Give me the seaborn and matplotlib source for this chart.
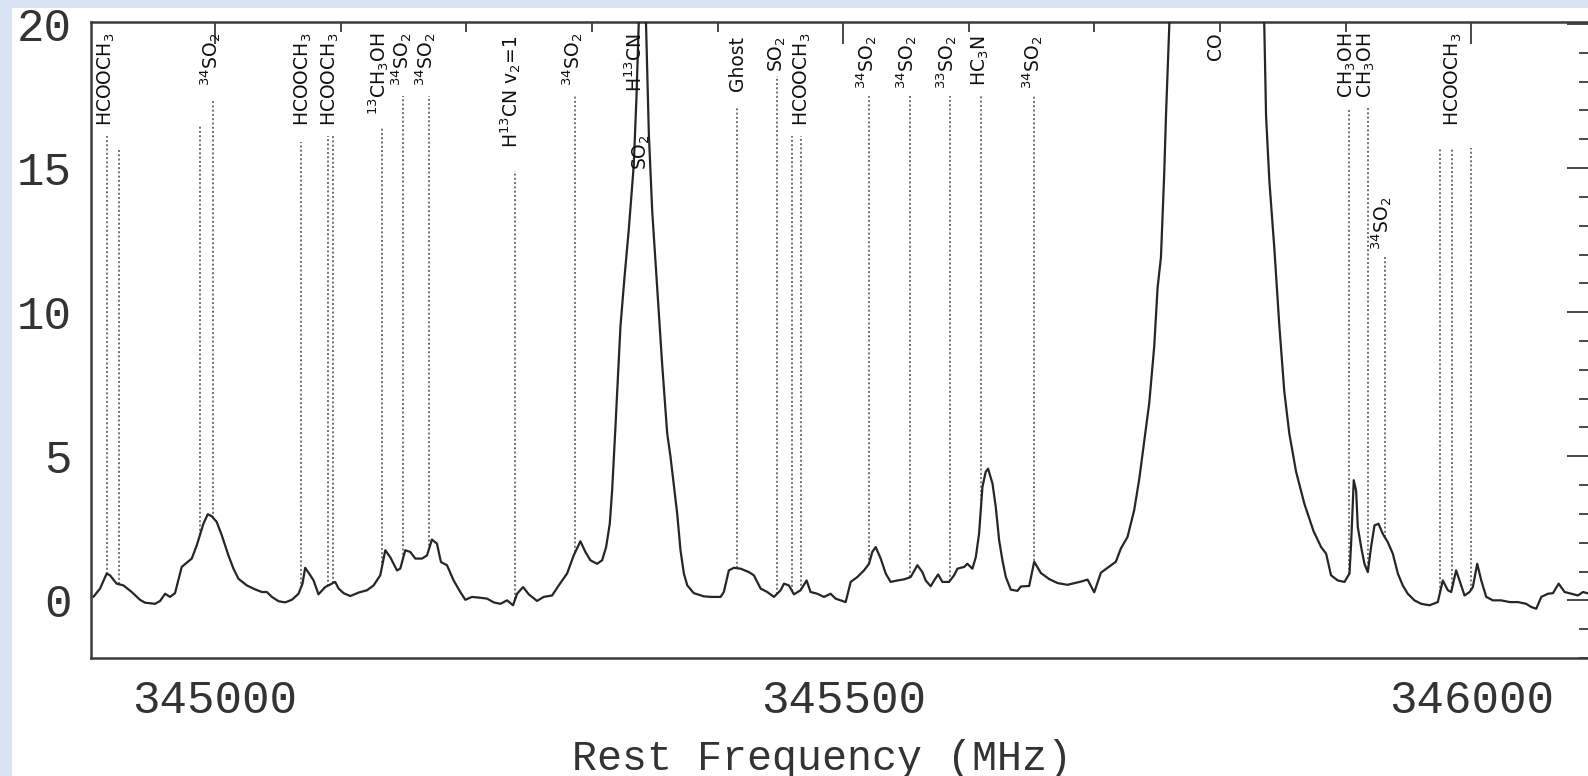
import numpy as np
import pandas as pd
import matplotlib
matplotlib.use("Agg")
import matplotlib.pyplot as plt
import seaborn as sns
from matplotlib import font_manager
from matplotlib.ticker import MultipleLocator, StrMethodFormatter, FixedLocator
from matplotlib.patches import Rectangle

# ---------------- data ----------------
freq_mhz = [
    344903.1, 344908.4, 344913.7, 344916.3, 344921.6, 344927.0, 344933.6, 344940.2, 344944.2, 344952.2,
    344956.2, 344960.2, 344964.1, 344968.1, 344973.4, 344981.4, 344985.4, 344990.7, 344994.2, 344997.3,
    345001.3, 345005.3, 345010.6, 345014.6, 345018.6, 345025.2, 345031.9, 345037.2, 345041.2, 345045.2,
    345050.5, 345055.8, 345061.1, 345066.4, 345069.6, 345071.7, 345074.9, 345078.4, 345082.3, 345087.6,
    345093.0, 345095.6, 345098.3, 345102.3, 345107.6, 345114.2, 345120.9, 345126.2, 345131.5, 345135.5,
    345139.4, 345144.8, 345147.4, 345151.4, 345155.4, 345159.4, 345164.7, 345168.7, 345172.6, 345176.6,
    345179.8, 345184.6, 345189.9, 345195.2, 345199.2, 345204.5, 345211.2, 345216.5, 345221.8, 345227.1,
    345232.4, 345237.2, 345240.4, 345245.2, 345249.7, 345256.3, 345261.6, 345268.3, 345273.6, 345280.2,
    345285.5, 345290.8, 345294.8, 345298.8, 345304.1, 345308.1, 345311.3, 345314.2, 345316.1, 345318.7,
    345322.7, 345325.9, 345329.3, 345333.3, 345335.5, 345337.3, 345340.2, 345343.0, 345345.3, 345348.0,
    345352.0, 345355.9, 345359.9, 345362.5, 345365.2, 345367.9, 345370.5, 345373.2, 345375.9, 345381.1,
    345389.1, 345394.4, 345402.4, 345405.0, 345409.0, 345413.0, 345418.3, 345425.0, 345428.9, 345434.3,
    345439.6, 345444.9, 345450.2, 345452.9, 345456.8, 345460.8, 345466.1, 345470.9, 345474.1, 345479.4,
    345484.7, 345490.0, 345494.0, 345498.0, 345502.0, 345506.0, 345511.3, 345516.6, 345520.6, 345523.2,
    345525.9, 345529.9, 345533.9, 345537.8, 345543.2, 345548.5, 345553.8, 345559.1, 345563.1, 345565.7,
    345569.7, 345572.4, 345575.6, 345579.0, 345584.3, 345588.3, 345591.0, 345596.3, 345598.9, 345602.9,
    345605.6, 345608.2, 345610.9, 345613.5, 345615.4, 345618.9, 345621.5, 345624.2, 345626.8, 345629.5,
    345633.5, 345638.8, 345641.4, 345648.1, 345652.1, 345657.4, 345664.0, 345670.7, 345678.6, 345689.2,
    345694.6, 345699.9, 345705.2, 345717.1, 345721.1, 345726.4, 345731.7, 345735.7, 345739.7, 345743.7,
    345747.7, 345750.3, 345753.0, 345755.6, 345757.0, 345759.6, 345797.0, 345835.3, 345836.7, 345839.3,
    345843.3, 345847.3, 345851.2, 345855.2, 345860.6, 345867.2, 345874.5, 345880.5, 345884.5, 345888.4,
    345893.8, 345899.1, 345903.1, 345904.4, 345906.5, 345908.4, 345909.7, 345912.4, 345915.0, 345917.7,
    345920.3, 345923.0, 345926.2, 345929.6, 345933.6, 345937.6, 345941.6, 345945.5, 345949.5, 345954.8,
    345960.2, 345966.8, 345973.4, 345977.4, 345981.4, 345984.1, 345988.0, 345990.7, 345994.7, 345998.7,
    346001.3, 346004.8, 346008.0, 346012.0, 346017.3, 346023.9, 346030.7, 346037.2, 346043.8, 346047.8,
    346051.8, 346055.8, 346061.1, 346065.1, 346069.6, 346074.4, 346079.7, 346085.0, 346089.0, 346094.0,
]
intensity = [
    0.12, 0.41, 0.93, 0.87, 0.58, 0.52, 0.29, 0.02, -0.08, -0.12,
    -0.02, 0.23, 0.12, 0.25, 1.16, 1.45, 1.91, 2.66, 2.99, 2.92,
    2.72, 2.26, 1.56, 1.10, 0.75, 0.52, 0.38, 0.29, 0.29, 0.12,
    -0.03, -0.07, 0.02, 0.23, 0.58, 1.13, 0.93, 0.69, 0.21, 0.46,
    0.58, 0.64, 0.41, 0.25, 0.15, 0.27, 0.35, 0.52, 0.87, 1.74,
    1.50, 1.04, 1.10, 1.74, 1.68, 1.45, 1.45, 1.56, 2.11, 1.97,
    1.33, 1.22, 0.69, 0.29, 0.02, 0.12, 0.09, 0.06, -0.07, -0.12,
    0.00, -0.17, 0.23, 0.46, 0.21, -0.02, 0.12, 0.17, 0.52, 0.93,
    1.56, 2.05, 1.68, 1.39, 1.27, 1.39, 1.85, 2.66, 3.82, 6.0,
    9.5, 11.2, 12.85, 15.1, 17.5, 20.1, 21.5, 20.1, 16.2, 13.5,
    10.8, 8.2, 5.8, 5.0, 4.0, 3.0, 1.74, 0.93, 0.52, 0.25,
    0.14, 0.12, 0.12, 0.29, 1.04, 1.13, 1.10, 0.98, 0.87, 0.41,
    0.29, 0.12, 0.35, 0.58, 0.52, 0.21, 0.35, 0.69, 0.29, 0.23,
    0.12, 0.23, 0.06, 0.00, -0.06, 0.64, 0.81, 1.04, 1.27, 1.68,
    1.85, 1.45, 0.93, 0.64, 0.69, 0.73, 0.81, 1.22, 0.98, 0.69,
    0.49, 0.69, 0.90, 0.64, 0.64, 0.87, 1.10, 1.16, 1.27, 1.10,
    1.50, 2.31, 3.94, 4.46, 4.57, 4.05, 3.24, 2.08, 1.39, 0.81,
    0.37, 0.33, 0.48, 0.50, 1.34, 0.95, 0.74, 0.60, 0.54, 0.65,
    0.72, 0.28, 0.96, 1.34, 1.80, 2.20, 3.13, 4.20, 5.52, 6.85,
    8.84, 10.84, 11.90, 14.80, 16.80, 19.90, 60.0, 19.90, 16.80, 14.56,
    12.20, 9.50, 7.25, 5.79, 4.46, 3.35, 2.40, 1.85, 1.62, 0.87,
    0.69, 0.64, 0.93, 1.97, 4.17, 3.80, 2.55, 1.85, 1.27, 0.98,
    1.85, 2.60, 2.66, 2.31, 2.02, 1.62, 0.93, 0.52, 0.23, 0.00,
    -0.12, -0.17, -0.06, 0.69, 0.35, 0.29, 1.04, 0.69, 0.17, 0.29,
    0.46, 1.27, 0.69, 0.12, 0.00, 0.00, -0.06, -0.06, -0.12, -0.23,
    -0.29, 0.12, 0.23, 0.25, 0.58, 0.29, 0.23, 0.17, 0.29, 0.23,
]

# identified transitions (dotted markers)
line_freqs = [344913.7, 344923.7, 344988.0, 344998.6, 345068.3, 345090.0, 345094.0, 345132.8,
              345149.6, 345170.0, 345239.0, 345286.9, 345415.7, 345447.6, 345459.5, 345466.1,
              345520.6, 345553.0, 345585.0, 345609.6, 345651.6, 345903.0, 345917.7, 345931.0,
              345975.3, 345984.9, 346000.0]

# species labels
label_texts = ["HCOOCH$_3$", "$^{34}$SO$_2$", "HCOOCH$_3$", "HCOOCH$_3$", "$^{13}$CH$_3$OH",
               "$^{34}$SO$_2$", "$^{34}$SO$_2$", "H$^{13}$CN v$_2$=1", "$^{34}$SO$_2$", "H$^{13}$CN",
               "SO$_2$", "Ghost", "SO$_2$", "HCOOCH$_3$", "$^{34}$SO$_2$", "$^{34}$SO$_2$",
               "$^{33}$SO$_2$", "HC$_3$N", "$^{34}$SO$_2$", "CO", "CH$_3$OH", "CH$_3$OH",
               "$^{34}$SO$_2$", "HCOOCH$_3$"]
label_freqs = [344913.7, 344996.8, 345070.4, 345091.6, 345129.9, 345148.2, 345167.3, 345235.1,
               345284.5, 345334.7, 345339.4, 345416.0, 345447.8, 345467.7, 345518.7, 345550.6,
               345582.5, 345609.6, 345651.0, 345796.8, 345901.2, 345916.3, 345928.3, 345985.7]

x_major_ticks = [345000, 345500, 346000]
y_major_ticks = [0, 5, 10, 15, 20]
x_label = "Rest Frequency (MHz)"

# ---------------- layout (not data) ----------------
line_tops = [16.1, 15.7, 16.5, 17.4, 15.9, 16.1, 16.1, 16.4, 17.5, 17.5, 14.9, 17.5, 17.1, 18.2,
             16.1, 16.1, 17.5, 17.5, 17.5, 17.5, 17.5, 17.1, 17.1, 12.0, 15.7, 15.7, 15.7]
label_tops = [19.7, 19.7, 19.7, 19.7, 19.7, 19.7, 19.7, 19.6, 19.7, 19.7, 16.2, 19.6, 19.6, 19.7,
              19.6, 19.6, 19.6, 19.6, 19.6, 19.7, 19.7, 19.7, 14.0, 19.7]

# ---------------- style ----------------
sns.set_style("white")
names = {f.name for f in font_manager.fontManager.ttflist}
lab_family = "Liberation Sans Narrow" if "Liberation Sans Narrow" in names else "DejaVu Sans"
lab_size = 17 if lab_family == "Liberation Sans Narrow" else 13.5
mono = "Liberation Mono" if "Liberation Mono" in names else "DejaVu Sans Mono"
plt.rcParams["font.family"] = [mono, "DejaVu Sans"]
plt.rcParams["mathtext.fontset"] = "custom"
plt.rcParams["mathtext.rm"] = lab_family
plt.rcParams["mathtext.it"] = lab_family
plt.rcParams["mathtext.bf"] = lab_family
plt.rcParams["mathtext.default"] = "rm"

W, H = 1588, 776
fig = plt.figure(figsize=(W / 100, H / 100), dpi=100, facecolor="#d9e4f2")
bg = Rectangle((12 / W, 0), 1, 1 - 8 / H, transform=fig.transFigure,
               facecolor="white", edgecolor="none", zorder=-10)
fig.patches.append(bg)
ax = fig.add_axes([91 / W, 118 / H, 1 - 91 / W + 0.0008, 636 / H])
ax.set_zorder(1)
ax.set_facecolor("white")

df = pd.DataFrame({"freq": freq_mhz, "T": intensity})

ax.set_xlim(344901.2, 346094.0)
ax.set_ylim(-2.0, 20.07)

bottoms = np.interp(line_freqs, freq_mhz, intensity)
ax.vlines(line_freqs, bottoms, line_tops, colors="#6f6f6f", linewidth=1.4,
          linestyles=(0, (1.0, 1.2)), zorder=1)

sns.lineplot(data=df, x="freq", y="T", ax=ax, sort=False, estimator=None,
             color="#262626", linewidth=1.6, zorder=3)

for txt, fx, top in zip(label_texts, label_freqs, label_tops):
    ax.text(fx, top, txt, rotation=90, ha="center", va="top", fontsize=lab_size,
            family=lab_family, color="#111111", zorder=4)

ax.xaxis.set_major_locator(FixedLocator(x_major_ticks))
ax.xaxis.set_minor_locator(MultipleLocator(100))
ax.yaxis.set_major_locator(FixedLocator(y_major_ticks))
ax.yaxis.set_minor_locator(MultipleLocator(1))
ax.xaxis.set_major_formatter(StrMethodFormatter("{x:.0f}"))
ax.yaxis.set_major_formatter(StrMethodFormatter("{x:.0f}"))

ax.tick_params(axis="both", which="both", direction="in", top=True, right=True,
               colors="#3a3a3a", width=1.3)
ax.tick_params(axis="both", which="major", length=16)
ax.tick_params(axis="both", which="minor", length=7)
ax.tick_params(axis="x", which="major", labelsize=33, pad=15, labelcolor="#333333")
ax.tick_params(axis="y", which="major", labelsize=33, pad=14, labelcolor="#333333")

for s in ax.spines.values():
    s.set_color("#3a3a3a")
    s.set_linewidth(1.8)
    s.set_visible(True)

ax.set_xlabel(x_label, fontsize=30, color="#333333")
ax.xaxis.set_label_coords(0.488, -0.127)
ax.set_ylabel("")
ax.grid(False)

fig.savefig("out.png", dpi=100, facecolor=fig.get_facecolor())
